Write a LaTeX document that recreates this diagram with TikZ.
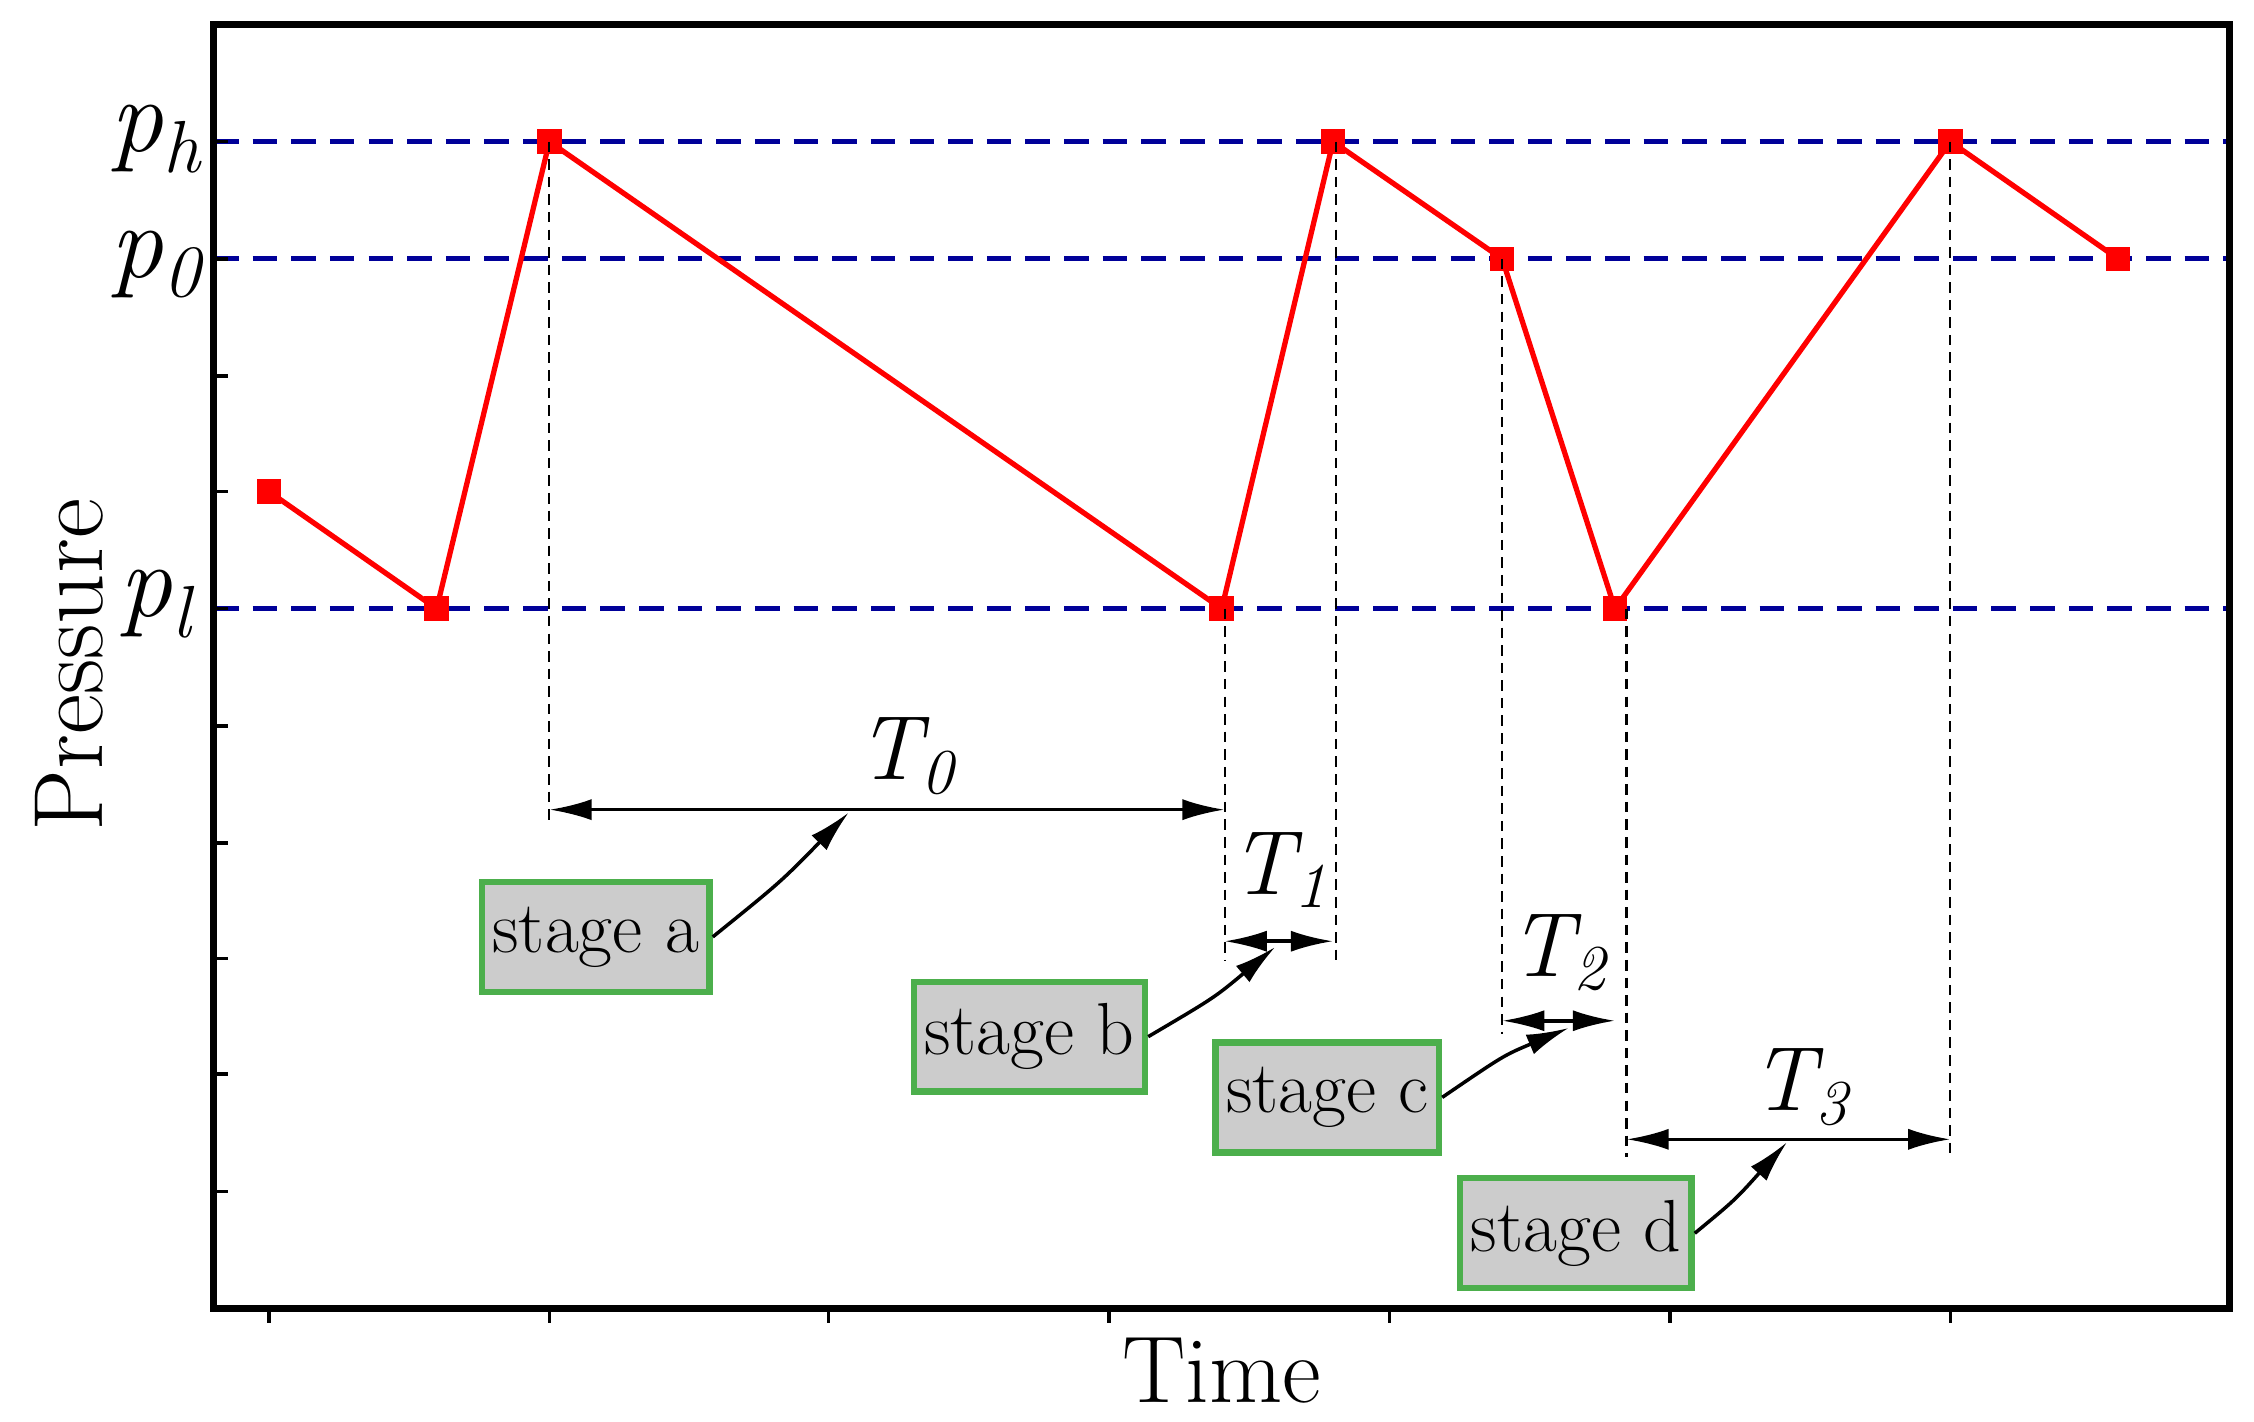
\documentclass[tikz,border=0pt]{standalone}
\usetikzlibrary{arrows.meta}
\begin{document}
\begin{tikzpicture}[x=0.014458cm,y=-0.014458cm,
 hline/.style={blue!60!black,line width=1.4pt,dash pattern=on 7pt off 4pt},
 vdot/.style={densely dashed,line width=0.6pt},
 dim/.style={{Latex[length=12pt,width=6pt]}-{Latex[length=12pt,width=6pt]},line width=1pt},
 stg/.style={draw=green!55!black!70,fill=gray!40,line width=1.8pt,minimum height=1.1cm,inner sep=3pt,font=\fontsize{21}{23}\selectfont},
 crv/.style={-{Latex[length=12pt,width=6pt]},line width=1pt},
 pt/.style={fill=red,draw=none,minimum size=7pt,inner sep=0pt},
 tl/.style={font=\fontsize{26}{28}\selectfont\itshape}]
\useasboundingbox (0,0) rectangle (1559,983);
\foreach \y in {98,179,421} \draw[hline] (148,\y) -- (1542,\y);
\foreach \y in {98,179,260,340,421,502,583,663,743,824} \draw[line width=1pt] (148,\y) -- (158,\y);
\foreach \x in {186,380,573,767,961,1155,1349} \draw[line width=1pt] (\x,905) -- (\x,915);
\draw[line width=2pt] (148,17) rectangle (1542,905);
\draw[red,line width=1.5pt] (186,340)--(302,421)--(380,98)--(845,421)--(922,98)--(1039,179)--(1117,421)--(1349,98)--(1465,179);
\foreach \x/\y [count=\i] in {186/340,302/421,380/98,845/421,922/98,1039/179,1117/421,1349/98,1465/179}
  \node[pt] (q\i) at (\x,\y) {};
\draw[vdot] (380,98)--(380,570);
\draw[vdot] (847,421)--(847,665);
\draw[vdot] (924,98)--(924,665);
\draw[vdot] (1039,179)--(1039,715);
\draw[vdot] (1125,421)--(1125,800);
\draw[vdot] (1349,98)--(1349,800);
\coordinate (a0) at (380,560); \coordinate (a1) at (847,560);
\coordinate (b0) at (847,651); \coordinate (b1) at (922,651);
\coordinate (c0) at (1039,706); \coordinate (c1) at (1117,706);
\coordinate (d0) at (1125,788); \coordinate (d1) at (1349,788);
\draw[dim] (a0)--(a1); \draw[dim] (b0)--(b1); \draw[dim] (c0)--(c1); \draw[dim] (d0)--(d1);
\node[tl] (t0) at (627,523) {T\textsubscript{0}};
\node[tl] (t1) at (885,602) {T\textsubscript{1}};
\node[tl] (t2) at (1078,659) {T\textsubscript{2}};
\node[tl] (t3) at (1245,752) {T\textsubscript{3}};
\node[stg,minimum width=2.28cm] (sa) at (412,648) {stage a};
\node[stg,minimum width=2.14cm] (sb) at (712,717) {stage b};
\node[stg,minimum width=2.08cm] (sc) at (918,759) {stage c};
\node[stg,minimum width=2.11cm] (sd) at (1090,853) {stage d};
\coordinate (ea) at (587,562); \coordinate (eb) at (882,655);
\coordinate (ec) at (1085,711); \coordinate (ed) at (1236,790);
\draw[crv] (sa.east) .. controls (540,610) .. (ea);
\draw[crv] (sb.east) .. controls (840,690) .. (eb);
\draw[crv] (sc.east) .. controls (1040,730) .. (ec);
\draw[crv] (sd.east) .. controls (1200,830) .. (ed);
\node[font=\fontsize{30}{32}\selectfont\itshape] (lph) at (108,96) {p\textsubscript{h}};
\node[font=\fontsize{30}{32}\selectfont\itshape] (lp0) at (108,183) {p\textsubscript{0}};
\node[font=\fontsize{30}{32}\selectfont\itshape] (lpl) at (108,418) {p\textsubscript{l}};
\node[font=\fontsize{28}{30}\selectfont,rotate=90] (yl) at (48,460) {Pressure};
\node[font=\fontsize{27}{29}\selectfont] (xl) at (845,948) {Time};
\end{tikzpicture}
\end{document}
